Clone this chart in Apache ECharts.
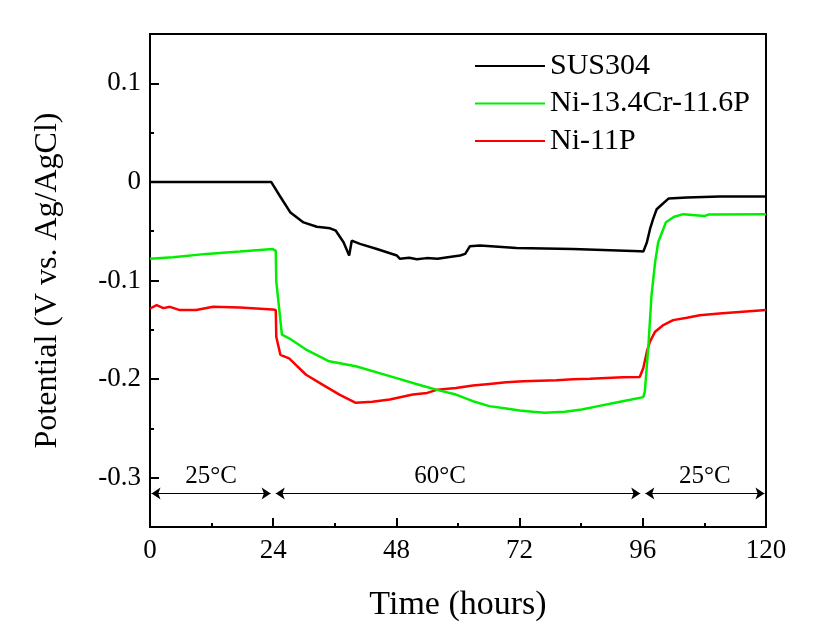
<!DOCTYPE html>
<html>
<head>
<meta charset="utf-8">
<script src="https://cdn.jsdelivr.net/npm/echarts@6/dist/echarts.min.js"></script>
<style>
html,body{margin:0;padding:0;background:#fff;}
#chart{width:813px;height:627px;}
</style>
</head>
<body>
<div id="chart"></div>
<script>
// ---- data ----
const seriesNames = ['SUS304', 'Ni-13.4Cr-11.6P', 'Ni-11P'];
const seriesColors = ['#000000', '#00ee00', '#ff0000'];

const susTime = [0, 10, 20, 23.6, 25.3, 27.3, 29.9, 32.5, 35.1, 36.2, 37.7, 38.8, 39.3, 40.9, 44.2, 48.1, 48.7, 50.5, 52.0, 53.9, 56.0, 58.0, 60.4, 61.4, 62.3, 64.3, 71.4, 82.4, 95.5, 96.1, 96.8, 97.4, 98.0, 98.7, 99.4, 101.0, 104.6, 111.0, 120];
const susValue = [0, 0, 0, 0, -0.0143, -0.0307, -0.0411, -0.0455, -0.0471, -0.0495, -0.0612, -0.0746, -0.0596, -0.0629, -0.068, -0.0747, -0.078, -0.0770, -0.0785, -0.0773, -0.0780, -0.0765, -0.0747, -0.073, -0.0653, -0.0645, -0.067, -0.068, -0.0703, -0.0707, -0.0612, -0.048, -0.0378, -0.0277, -0.0244, -0.0169, -0.0159, -0.0149, -0.0149];

const crTime = [0, 4.5, 11.0, 17.5, 23.9, 24.5, 24.6, 25.7, 27.1, 30.4, 34.9, 40.1, 46.7, 53.2, 56.5, 59.6, 62.9, 66.1, 69.4, 72.0, 74.6, 76.9, 80.8, 84.1, 87.3, 90.6, 93.8, 96.1, 96.4, 97.1, 97.7, 98.4, 99.0, 100.0, 100.5, 102.1, 103.9, 108.0, 108.9, 120];
const crValue = [-0.078, -0.0763, -0.073, -0.0707, -0.068, -0.070, -0.101, -0.155, -0.1586, -0.170, -0.182, -0.187, -0.197, -0.207, -0.2117, -0.2157, -0.2224, -0.2274, -0.2298, -0.2318, -0.2331, -0.2341, -0.2331, -0.2308, -0.2274, -0.224, -0.2207, -0.2183, -0.2123, -0.1654, -0.115, -0.0814, -0.0612, -0.0478, -0.041, -0.0354, -0.0327, -0.0347, -0.0330, -0.0327];

const niTime = [0, 1.3, 2.6, 3.9, 5.8, 9.0, 12.3, 17.5, 23.9, 24.5, 24.6, 25.4, 27.1, 30.4, 33.6, 36.9, 40.1, 43.3, 46.7, 51.2, 54.0, 56.0, 59.6, 62.9, 66.1, 69.4, 72.7, 75.9, 79.2, 82.4, 85.7, 88.9, 92.1, 95.4, 96.1, 96.8, 97.4, 98.4, 100.0, 101.9, 104.6, 107.1, 110.9, 120];
const niValue = [-0.1284, -0.125, -0.128, -0.1267, -0.130, -0.130, -0.1267, -0.1274, -0.1294, -0.130, -0.157, -0.1754, -0.179, -0.1956, -0.2056, -0.2157, -0.224, -0.223, -0.2207, -0.2157, -0.214, -0.2107, -0.209, -0.2066, -0.2049, -0.2032, -0.2022, -0.2016, -0.2012, -0.2002, -0.1996, -0.1989, -0.1982, -0.1979, -0.1888, -0.172, -0.162, -0.1519, -0.1452, -0.1402, -0.1378, -0.1352, -0.1334, -0.130];

const xTicks = [0, 24, 48, 72, 96, 120];
const yMajorTicks = [-0.3, -0.2, -0.1, 0, 0.1];
const yMinorTicks = [-0.25, -0.15, -0.05, 0.05];

const periodLabels = ['25°C', '60°C', '25°C'];
const periodStart = [0, 24, 96];
const periodEnd = [24, 96, 120];
const periodLevel = -0.316;

// ---- build chart ----
const font = 'Liberation Serif';
function pairs(t, v) { return t.map((x, i) => [x, v[i]]); }
const dataSets = [pairs(susTime, susValue), pairs(crTime, crValue), pairs(niTime, niValue)];

const series = seriesNames.map((name, i) => ({
  name: name,
  type: 'line',
  data: dataSets[i],
  showSymbol: false,
  symbol: 'none',
  lineStyle: { color: seriesColors[i], width: 2.5 },
  itemStyle: { color: seriesColors[i] },
  z: 3 - i + 2,
  animation: false
}));

// annotation arrows for temperature periods
series.push({
  name: 'periods',
  type: 'line',
  data: [],
  silent: true,
  animation: false,
  markLine: {
    silent: true,
    animation: false,
    symbol: ['arrow', 'arrow'],
    symbolSize: [9, 9],
    lineStyle: { color: '#000', width: 1, type: 'solid' },
    label: {
      show: true,
      position: 'middle',
      fontFamily: font,
      fontSize: 25,
      color: '#000',
      distance: 5
    },
    data: periodLabels.map((lab, i) => [
      { coord: [periodStart[i] + (i === 0 ? 0.3 : 0.5), periodLevel], name: lab,
        label: { formatter: lab, offset: i === 1 ? [-18, 0] : [0, 0] } },
      { coord: [periodEnd[i] - (i === 2 ? 0.3 : 0.5), periodLevel] }
    ])
  }
});

const chart = echarts.init(document.getElementById('chart'), null, { renderer: 'canvas' });
chart.setOption({
  backgroundColor: '#ffffff',
  animation: false,
  grid: {
    left: 150, right: 47, top: 34, bottom: 98,
    show: true, borderColor: '#000', borderWidth: 2, backgroundColor: 'transparent'
  },
  legend: {
    data: seriesNames,
    orient: 'vertical',
    left: 470,
    top: 46,
    itemWidth: 70,
    itemHeight: 14,
    itemGap: 7.5,
    textStyle: { fontFamily: font, fontSize: 30, color: '#000', lineHeight: 30 },
    icon: 'path://M0,0 L70,0 L70,2 L0,2 Z'
  },
  xAxis: {
    type: 'value',
    min: 0, max: 120, interval: 24,
    name: 'Time (hours)',
    nameLocation: 'middle',
    nameGap: 61,
    nameTextStyle: { fontFamily: font, fontSize: 34, color: '#000' },
    axisLine: { show: true, onZero: false, lineStyle: { color: '#000', width: 2 } },
    axisTick: { show: true, inside: true, length: 9, lineStyle: { color: '#000', width: 2 } },
    minorTick: { show: true, splitNumber: 2, length: 4, lineStyle: { color: '#000', width: 2 } },
    axisLabel: { fontFamily: font, fontSize: 27, color: '#000', margin: 10,
      customValues: xTicks },
    splitLine: { show: false }
  },
  yAxis: [{
    type: 'value',
    min: -0.35, max: 0.15,
    name: 'Potential (V vs. Ag/AgCl)',
    nameLocation: 'middle',
    nameGap: 86,
    nameTextStyle: { fontFamily: font, fontSize: 32, color: '#000' },
    axisLine: { show: true, onZero: false, lineStyle: { color: '#000', width: 2 } },
    axisTick: { show: true, inside: true, length: 9, lineStyle: { color: '#000', width: 2 },
      customValues: yMajorTicks },
    axisLabel: { fontFamily: font, fontSize: 27, color: '#000', margin: 9,
      customValues: yMajorTicks,
      formatter: v => (Math.abs(v) < 1e-9 ? '0' : (Math.round(v * 10) / 10).toString()) },
    splitLine: { show: false }
  }, {
    type: 'value',
    position: 'left',
    min: -0.35, max: 0.15,
    axisLine: { show: false },
    axisTick: { show: true, inside: true, length: 4, lineStyle: { color: '#000', width: 2 },
      customValues: yMinorTicks },
    axisLabel: { show: false },
    splitLine: { show: false }
  }],
  series: series
});
</script>
</body>
</html>
